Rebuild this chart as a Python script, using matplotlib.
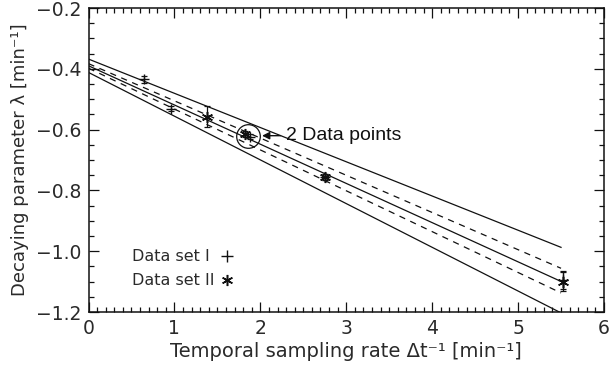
import matplotlib.pyplot as plt
import numpy as np

# fitted lines: intercept, slope, style
line_b = [-0.368, -0.390, -0.412, -0.383, -0.398]
line_m = [-0.1126, -0.1290, -0.1438, -0.1224, -0.1344]
line_ls = ["-", "-", "-", "--", "--"]
x_end = 5.5

# data set I (+)
x1 = [0.64, 0.96, 1.88, 2.75, 5.52]
y1 = [-0.435, -0.531, -0.623, -0.755, -1.095]
e1 = [0.012, 0.008, 0.008, 0.010, 0.030]

# data set II (*)
x2 = [1.38, 1.82, 2.75, 5.52]
y2 = [-0.557, -0.614, -0.757, -1.100]
e2 = [0.035, 0.010, 0.010, 0.032]

circle_xy = (1.86, -0.62)
ink = "#111111"
grey = "#2a2a2a"

plt.rcParams["font.family"] = "DejaVu Sans"
fig = plt.figure(figsize=(6.16, 3.78), dpi=100)
ax = fig.add_axes([0.1437, 0.1746, 0.8368, 0.8042])

xs = np.array([0, x_end])
for b, m, ls in zip(line_b, line_m, line_ls):
    ax.plot(xs, b + m * xs, ls=ls, color=ink, lw=0.9,
            dashes=(5, 4.5) if ls == "--" else (None, None))

ax.errorbar(x1, y1, yerr=e1, fmt="none", ecolor=ink, elinewidth=0.9,
            capsize=2.5, capthick=0.9)
ax.plot(x1, y1, ls="none", marker="+", ms=7, mew=1.0, color=ink)
ax.errorbar(x2, y2, yerr=e2, fmt="none", ecolor=ink, elinewidth=0.9,
            capsize=2.5, capthick=0.9)
ax.plot(x2, y2, ls="none", marker=(6, 2, 0), ms=8, mew=1.1, color=ink)

# circle around the two overlapping points
ax.plot([circle_xy[0]], [circle_xy[1]], ls="none", marker="o", ms=17,
        mfc="none", mec=ink, mew=0.9)
ax.annotate("2 Data points", xy=(2.02, -0.62), xytext=(2.30, -0.62),
            ha="left", va="center", fontsize=14, family="Liberation Sans",
            color=ink,
            arrowprops=dict(arrowstyle="-|>", color=ink, lw=1.0,
                            mutation_scale=11, shrinkA=2, shrinkB=0))

# legend
ax.text(0.51, -1.017, "Data set I", ha="left", va="center", fontsize=11.5,
        color=grey)
ax.text(0.51, -1.096, "Data set II", ha="left", va="center", fontsize=11.5,
        color=grey)
ax.plot([1.61], [-1.017], marker="+", ms=8, mew=1.0, color=ink)
ax.plot([1.61], [-1.096], marker=(6, 2, 0), ms=8, mew=1.1, color=ink)

ax.set_xlim(0, 6)
ax.set_ylim(-1.2, -0.2)
ax.set_xticks(np.arange(0, 7, 1))
ax.set_xticks(np.arange(0, 6.01, 0.1), minor=True)
ax.set_yticks(np.arange(-1.2, -0.19, 0.2))
ax.set_yticks(np.arange(-1.2, -0.19, 0.05), minor=True)
ax.set_yticklabels(["\u22121.2", "\u22121.0", "\u22120.8", "\u22120.6",
                    "\u22120.4", "\u22120.2"])
ax.tick_params(which="both", direction="in", top=True, right=True,
               color=ink, labelsize=13.5, labelcolor=grey, width=0.9)
ax.tick_params(which="major", length=7, pad=5)
ax.tick_params(which="minor", length=3.5)
for s in ax.spines.values():
    s.set_linewidth(1.1)
    s.set_color(ink)

ax.set_xlabel("Temporal sampling rate \u0394t\u207b\u00b9 [min\u207b\u00b9]",
              fontsize=14, color=grey, labelpad=3)
ax.set_ylabel("Decaying parameter \u03bb [min\u207b\u00b9]", fontsize=13,
              color=grey, labelpad=5)

fig.savefig("out.png", dpi=100)
